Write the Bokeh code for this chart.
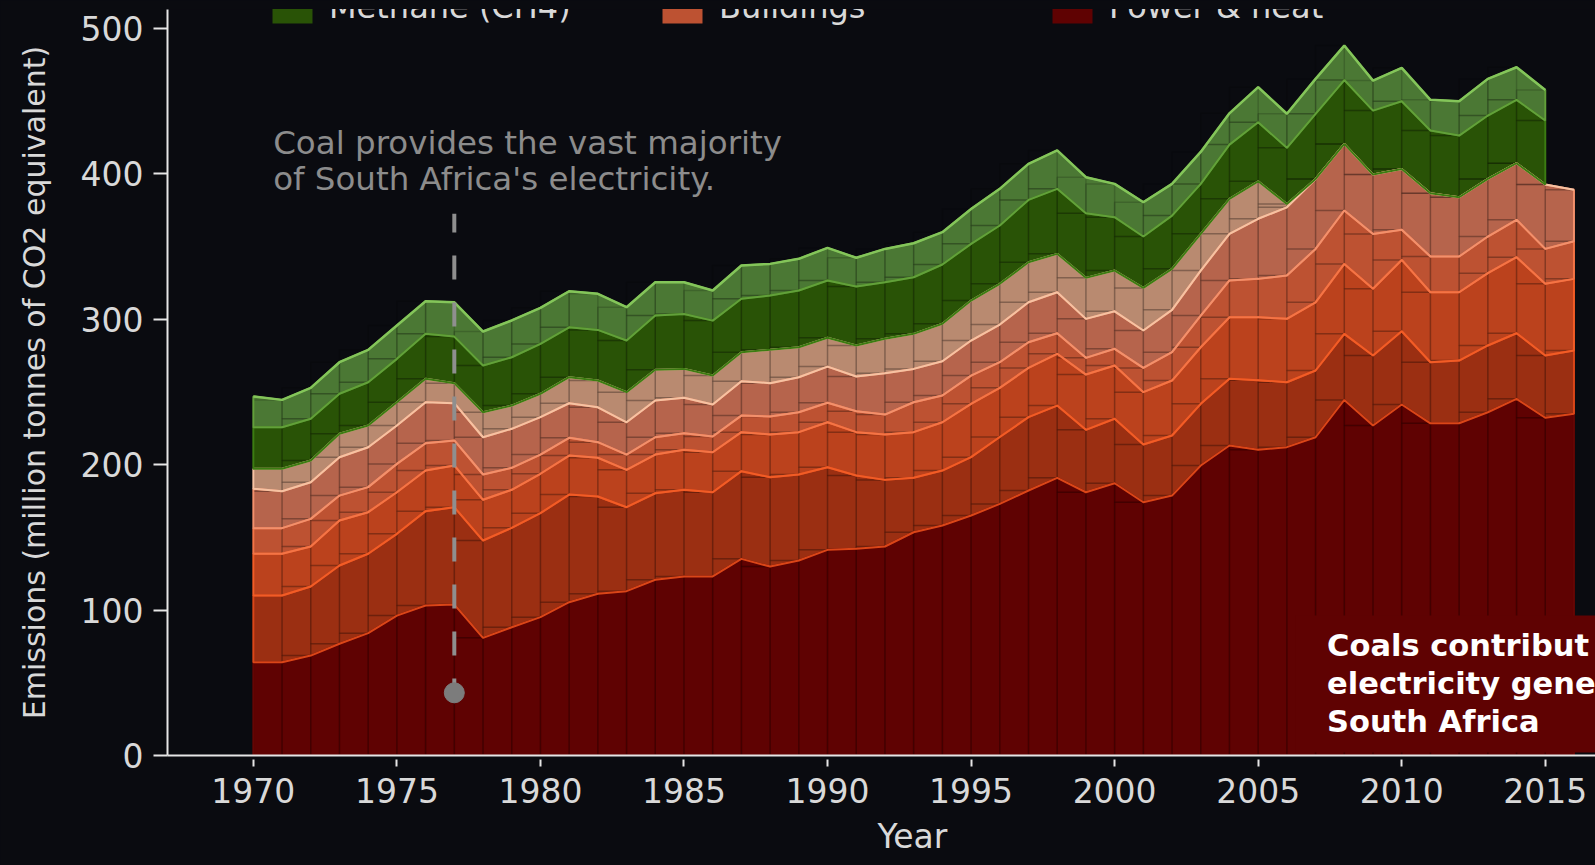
import numpy as np
from bokeh.plotting import figure
from bokeh.models import (Range1d, FixedTicker, Label, BoxAnnotation, Legend,
                          LegendItem, Title, GlobalInlineStyleSheet)
from bokeh.embed import file_html
from bokeh.resources import INLINE

# ---------------- data (million tonnes CO2e, stacked bottom -> top) ----------------
years = list(range(1970, 2017))

power_heat = [64.1, 64.1, 68.7, 76.8, 84.1, 96.2, 103.1, 103.8, 80.9, 88.2,
              95.1, 105.4, 111.2, 113.0, 120.8, 123.1, 123.1, 135.2, 129.9, 134.1,
              141.4, 142.1, 143.7, 153.5, 158.1, 165.0, 173.0, 182.2, 190.9, 181.0,
              187.2, 174.1, 178.7, 199.4, 213.1, 210.2, 212.0, 218.8, 244.5, 226.9,
              241.3, 228.4, 228.4, 236.0, 245.2, 232.2, 234.9]
manufacturing = [45.9, 45.9, 47.5, 53.8, 54.6, 56.2, 64.9, 66.9, 66.9, 68.3,
                 71.5, 74.0, 66.9, 57.7, 59.5, 59.6, 57.9, 60.3, 61.4, 59.1,
                 56.8, 50.4, 45.8, 37.4, 37.8, 40.1, 46.0, 50.4, 49.7, 42.9,
                 44.3, 39.7, 41.3, 42.4, 45.9, 47.8, 44.6, 45.9, 45.4, 48.1,
                 50.4, 42.0, 43.1, 45.9, 45.1, 42.8, 43.5]
transport = [28.7, 28.7, 27.5, 31.0, 28.6, 28.6, 27.9, 28.7, 28.0, 26.2,
             27.1, 26.8, 26.6, 25.7, 26.6, 27.5, 27.5, 26.8, 29.4, 29.1,
             30.9, 29.8, 31.2, 31.4, 33.2, 36.7, 33.8, 33.9, 35.6, 38.0,
             36.6, 36.0, 37.8, 38.9, 42.3, 43.3, 43.6, 46.9, 48.1, 45.9,
             49.0, 48.1, 47.0, 49.7, 52.3, 49.3, 49.3]
buildings = [17.6, 17.6, 19.0, 17.1, 17.2, 19.5, 18.8, 17.2, 17.4, 15.1,
             13.2, 12.2, 10.7, 10.5, 11.9, 11.4, 10.8, 11.4, 12.4, 13.7,
             13.4, 14.4, 13.7, 20.6, 18.4, 19.4, 17.6, 17.6, 14.1, 11.5,
             11.5, 16.7, 19.5, 21.8, 25.3, 26.4, 29.8, 36.7, 36.7, 37.7,
             20.7, 24.6, 24.6, 25.2, 25.7, 24.0, 25.9]
industry = [27.1, 25.4, 25.2, 26.4, 27.4, 26.4, 28.2, 25.6, 25.6, 26.8,
            25.7, 23.8, 24.0, 22.2, 25.3, 24.3, 22.0, 23.6, 22.9, 24.1,
            24.9, 23.9, 28.4, 22.9, 23.6, 24.1, 25.9, 27.5, 28.2, 26.8,
            25.8, 25.7, 29.1, 30.9, 32.1, 41.3, 46.9, 48.1, 45.8, 40.8,
            41.9, 43.5, 40.7, 39.6, 38.9, 44.3, 35.3]
fugitive = [13.7, 15.4, 14.9, 16.1, 15.0, 16.0, 16.1, 13.8, 17.2, 16.0,
            16.1, 17.9, 18.4, 20.7, 21.1, 19.9, 19.9, 20.0, 22.9, 20.6,
            19.8, 21.3, 23.7, 24.1, 25.7, 27.5, 28.0, 27.5, 26.4, 28.2,
            28.0, 29.3, 28.2, 25.3, 24.0, 25.8, 2.3, 0.0, 0.0, 0.0,
            0.0, 0.0, 0.0, 0.0, 0.0, 0.0, 0.0]
methane = [28.6, 28.6, 28.7, 27.5, 29.7, 29.8, 30.9, 32.0, 32.1, 33.2,
           34.3, 34.3, 34.8, 35.5, 37.3, 37.8, 37.8, 36.7, 37.3, 39.0,
           39.4, 40.5, 38.9, 38.9, 40.8, 39.0, 40.1, 42.9, 44.7, 44.4,
           36.7, 35.3, 36.6, 34.3, 37.3, 40.6, 38.6, 44.8, 43.9, 44.0,
           46.5, 43.1, 42.4, 43.6, 43.6, 44.0, None]
nitrous = [21.1, 18.8, 21.3, 21.7, 22.3, 22.9, 22.4, 23.6, 23.4, 25.3,
           24.8, 24.8, 24.8, 22.9, 22.9, 21.8, 20.7, 22.9, 21.8, 21.8,
           22.4, 19.8, 22.9, 23.4, 22.2, 24.0, 25.2, 24.8, 26.4, 24.8,
           22.9, 23.6, 21.8, 22.0, 21.5, 24.1, 23.4, 24.0, 23.7, 20.6,
           23.0, 21.1, 23.6, 25.2, 22.4, 21.0, None]

series = [power_heat, manufacturing, transport, buildings, industry,
          fugitive, methane, nitrous]
fill_colors = ["#5f0202", "#9b2f12", "#bb421d", "#bd5232", "#b6644c",
               "#b98a70", "#295306", "#4b7834"]
edge_colors = ["#640604", "#da4618", "#f25c26", "#f47446", "#f2906c",
               "#f6c2a2", "#3c7c12", "#62a03a"]

x_ticks = [1970, 1975, 1980, 1985, 1990, 1995, 2000, 2005, 2010, 2015]
y_ticks = [0, 100, 200, 300, 400, 500]

legend_labels = ["Methane (CH4)", "Buildings", "Power & heat"]
legend_series = [6, 3, 0]

note_lines = ["Coal provides the vast majority", "of South Africa's electricity."]
box_lines = ["Coals contribut", "electricity gene", "South Africa"]

# ---------------- figure ----------------
BG = "#0a0b10"
W, H = 1595, 865
p = figure(width=W, height=H, output_backend="svg", toolbar_location=None,
           title=None,
           x_range=Range1d(1967.01, 2016.75), y_range=Range1d(0, 512.9),
           background_fill_color=BG, border_fill_color=BG,
           min_border_left=167, min_border_right=0, min_border_top=9,
           min_border_bottom=110)
p.stylesheets = [GlobalInlineStyleSheet(css="html, body { background-color: #0a0b10; }")]
p.grid.visible = False
p.outline_line_color = None

yrs = np.array(years, dtype=float)
cum = np.zeros(len(years))
bottoms, tops, masks = [], [], []
for vals in series:
    v = np.array([np.nan if a is None else a for a in vals], dtype=float)
    top = cum + v
    m = ~np.isnan(top)
    bottoms.append(cum.copy())
    tops.append(top)
    masks.append(m)
    cum = np.where(m, top, cum)

# filled areas
fill_renderers = []
for k in range(len(series)):
    m = masks[k]
    xs = list(yrs[m]) + list(yrs[m][::-1])
    ys = list(tops[k][m]) + list(bottoms[k][m][::-1])
    r = p.patch(xs, ys, fill_color=fill_colors[k], fill_alpha=1.0, line_alpha=0)
    fill_renderers.append(r)

# faint per-year bar outlines (brick texture)
ql, qr, qb, qt = [], [], [], []
for k in range(len(series)):
    for i in range(1, len(years)):
        if masks[k][i]:
            ql.append(yrs[i] - 1); qr.append(yrs[i])
            qb.append(bottoms[k][i]); qt.append(tops[k][i])
p.quad(left=ql, right=qr, bottom=qb, top=qt, fill_alpha=0,
       line_color="#000000", line_alpha=0.16, line_width=1.5)

# area outlines
for k in range(len(series)):
    m = masks[k]
    xs = list(yrs[m]) + list(yrs[m][::-1])
    ys = list(tops[k][m]) + list(bottoms[k][m][::-1])
    p.patch(xs, ys, fill_alpha=0, line_color=edge_colors[k], line_width=2)

m8 = masks[7]
p.line(yrs[m8], tops[7][m8], line_color="#84c55a", line_width=2.5)

# annotation: dashed marker at 1977
note_year = 1977
p.line([note_year, note_year], [36.4, 372.4], line_color="#8f8f8f",
       line_width=4, line_dash="24 23")
p.scatter([note_year], [43.1], size=20, color="#7c7c7c")

for txt, yv in zip(note_lines, [421.0, 396.7]):
    p.add_layout(Label(x=1970.69, y=yv, text=txt, text_font="DejaVu Sans",
                       text_font_size="32.5px", text_color="#8c8c8c",
                       text_baseline="alphabetic", text_align="left"))

# red call-out box
p.add_layout(BoxAnnotation(left=2006.3, right=2020, bottom=2.06, top=96.25,
                           fill_color=fill_colors[0], fill_alpha=1.0,
                           line_color=None))
for txt, yv in zip(box_lines, [75.85, 49.5, 23.15]):
    p.add_layout(Label(x=2007.4, y=yv, text=txt, text_font="DejaVu Sans",
                       text_font_style="bold", text_font_size="30.5px",
                       text_color="#ffffff", text_baseline="alphabetic",
                       text_align="left"))

# axes
for ax in (p.xaxis[0], p.yaxis[0]):
    ax.axis_line_color = "#e6e6e6"
    ax.axis_line_width = 2
    ax.major_tick_line_color = "#e6e6e6"
    ax.major_tick_line_width = 2
    ax.minor_tick_line_color = None
    ax.major_label_text_color = "#d9d9d9"
    ax.major_label_text_font = "DejaVu Sans"
    ax.major_label_text_font_size = "33px"
p.xaxis.ticker = FixedTicker(ticks=x_ticks)
p.yaxis.ticker = FixedTicker(ticks=y_ticks)
p.xaxis.major_tick_in = -4
p.xaxis.major_tick_out = 11
p.xaxis.major_label_standoff = 11
p.yaxis.major_tick_in = 0
p.yaxis.major_tick_out = 14
p.yaxis.major_label_standoff = 10
p.yaxis.axis_label = "Emissions (million tonnes of CO2 equivalent)"
p.yaxis.axis_label_text_font = "DejaVu Sans"
p.yaxis.axis_label_text_font_style = "normal"
p.yaxis.axis_label_text_font_size = "30px"
p.yaxis.axis_label_text_color = "#d9d9d9"
p.yaxis.axis_label_standoff = 26

# x-axis title, offset to the right like the reference
p.add_layout(Title(text="Year", align="left", offset=710, standoff=18,
                   text_font="DejaVu Sans", text_font_style="normal",
                   text_font_size="33px", text_color="#d9d9d9"), "below")

# legend (only its bottom row is inside the picture)
items = [LegendItem(label=lab, renderers=[fill_renderers[k]])
         for lab, k in zip(legend_labels, legend_series)]
legend = Legend(items=items, orientation="horizontal", location=(100, 728.5),
                glyph_width=50, glyph_height=39, label_height=39,
                label_standoff=12, label_width=328, spacing=0, padding=0,
                margin=0, background_fill_alpha=0, border_line_alpha=0,
                label_text_font="DejaVu Sans", label_text_font_size="32px",
                label_text_color="#d9d9d9")
p.add_layout(legend, "center")

open("out.html", "w").write(file_html(p, INLINE))
